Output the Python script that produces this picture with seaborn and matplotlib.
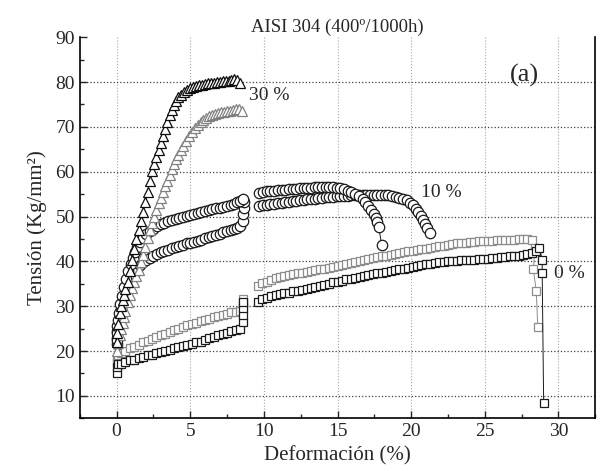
import numpy as np
import seaborn as sns
import matplotlib
matplotlib.use("Agg")
import matplotlib.pyplot as plt
from matplotlib.ticker import MultipleLocator

sns.set_theme(style="ticks")
plt.rcParams['font.family'] = ['Liberation Serif', 'DejaVu Serif']

# ---- 30 % (triangulos) ----
t1_x = [0.0, 0.05, 0.1, 0.2, 0.3, 0.4, 0.5, 0.6, 0.75, 0.9, 1.05, 1.2, 1.35, 1.5, 1.65, 1.8,
        1.95, 2.1, 2.25, 2.4, 2.55, 2.7, 2.85, 3.0, 3.15, 3.3, 3.45, 3.6, 3.75, 3.9, 4.05, 4.2,
        4.4, 4.6, 4.8, 5.0, 5.2, 5.4, 5.6, 5.8, 6.0, 6.2, 6.4, 6.6, 6.8, 7.0, 7.2, 7.4, 7.6,
        7.8, 8.0, 8.2, 8.4]
t1_y = [22.0, 24.0, 26.0, 28.5, 30.0, 31.3, 32.5, 33.8, 35.5, 37.8, 40.2, 42.8, 45.0, 47.0,
        49.0, 51.0, 53.2, 55.5, 58.0, 60.2, 61.8, 63.3, 64.8, 66.3, 68.0, 69.5, 71.0, 72.6,
        73.8, 74.8, 75.8, 76.6, 77.2, 77.8, 78.2, 78.6, 78.9, 79.1, 79.3, 79.4, 79.5, 79.7,
        79.8, 79.8, 80.0, 80.1, 80.2, 80.3, 80.3, 80.5, 80.6, 80.4, 79.8]
t2_x = [0.0, 0.1, 0.2, 0.3, 0.4, 0.5, 0.6, 0.75, 0.9, 1.05, 1.2, 1.35, 1.5, 1.65, 1.8, 1.95,
        2.1, 2.25, 2.4, 2.55, 2.7, 2.85, 3.0, 3.15, 3.3, 3.45, 3.6, 3.75, 3.9, 4.05, 4.2, 4.35,
        4.5, 4.7, 4.9, 5.1, 5.3, 5.5, 5.7, 5.9, 6.1, 6.3, 6.5, 6.7, 6.9, 7.1, 7.3, 7.5, 7.7,
        7.9, 8.1, 8.3, 8.5]
t2_y = [20.0, 21.8, 23.5, 25.0, 26.3, 27.5, 29.0, 31.0, 32.6, 34.0, 35.5, 36.8, 38.0, 39.8,
        41.5, 43.3, 45.3, 47.0, 48.5, 50.0, 51.5, 53.0, 54.2, 55.4, 56.8, 58.0, 59.3, 60.6,
        61.8, 62.8, 63.8, 64.8, 65.8, 66.9, 68.0, 68.8, 69.7, 70.4, 71.0, 71.6, 72.0, 72.4,
        72.7, 72.9, 73.1, 73.3, 73.4, 73.5, 73.6, 73.8, 73.9, 74.0, 73.5]

# ---- 10 % (circulos) ----
c1a_x = [0.0, 0.02, 0.05, 0.1, 0.15, 0.25, 0.35, 0.5, 0.65, 0.8, 0.95, 1.1, 1.25, 1.4, 1.6,
         1.8, 2.0, 2.25, 2.5, 2.75, 3.0, 3.25, 3.5, 3.75, 4.0, 4.25, 4.5, 4.75, 5.0, 5.25,
         5.5, 5.75, 6.0, 6.25, 6.5, 6.75, 7.0, 7.25, 7.5, 7.75, 8.0, 8.2, 8.4, 8.6]
c1a_y = [22.5, 24.0, 25.5, 27.0, 28.5, 30.5, 32.3, 34.3, 36.0, 37.8, 39.3, 40.8, 42.0, 43.2,
         44.3, 45.2, 46.0, 46.7, 47.3, 47.8, 48.3, 48.6, 49.0, 49.2, 49.5, 49.7, 50.0, 50.2,
         50.4, 50.6, 50.8, 51.0, 51.2, 51.4, 51.6, 51.8, 52.0, 52.2, 52.4, 52.6, 52.9, 53.2,
         53.5, 54.0]
c1b_x = [9.7, 9.95, 10.2, 10.45, 10.7, 10.95, 11.2, 11.45, 11.7, 11.95, 12.2, 12.45, 12.7,
         12.95, 13.2, 13.45, 13.7, 13.95, 14.2, 14.45, 14.7, 14.95, 15.2, 15.45, 15.7, 15.95,
         16.2, 16.45, 16.7, 16.9, 17.1, 17.3, 17.45, 17.6, 17.7, 17.8, 18.0]
c1b_y = [55.3, 55.5, 55.6, 55.7, 55.8, 55.9, 56.0, 56.0, 56.1, 56.2, 56.2, 56.3, 56.3, 56.4,
         56.4, 56.5, 56.5, 56.5, 56.6, 56.5, 56.5, 56.4, 56.3, 56.1, 55.8, 55.5, 55.1, 54.6,
         54.0, 53.2, 52.4, 51.5, 50.6, 49.7, 48.8, 47.6, 43.7]
c2a_x = [0.0, 0.02, 0.05, 0.1, 0.2, 0.3, 0.45, 0.6, 0.75, 0.9, 1.05, 1.2, 1.4, 1.6, 1.8, 2.0,
         2.25, 2.5, 2.75, 3.0, 3.25, 3.5, 3.75, 4.0, 4.25, 4.5, 4.75, 5.0, 5.25, 5.5, 5.75,
         6.0, 6.25, 6.5, 6.75, 7.0, 7.25, 7.5, 7.75, 8.0, 8.2, 8.4, 8.55, 8.6, 8.65, 8.65]
c2a_y = [21.5, 23.0, 24.5, 26.0, 27.8, 29.3, 31.0, 32.4, 33.8, 35.0, 36.2, 37.2, 38.3, 39.2,
         39.9, 40.4, 40.8, 41.2, 41.6, 42.0, 42.3, 42.6, 42.9, 43.2, 43.4, 43.7, 44.0, 44.2,
         44.4, 44.6, 44.8, 45.1, 45.4, 45.6, 45.9, 46.2, 46.5, 46.8, 47.0, 47.3, 47.5, 47.8,
         49.0, 50.5, 52.0, 53.3]
c2b_x = [9.7, 9.95, 10.2, 10.45, 10.7, 10.95, 11.2, 11.45, 11.7, 11.95, 12.2, 12.45, 12.7,
         12.95, 13.2, 13.45, 13.7, 13.95, 14.2, 14.45, 14.7, 14.95, 15.2, 15.45, 15.7, 15.95,
         16.2, 16.45, 16.7, 16.95, 17.2, 17.45, 17.7, 17.95, 18.2, 18.45, 18.7, 18.95, 19.2,
         19.45, 19.7, 19.9, 20.1, 20.3, 20.5, 20.65, 20.8, 20.95, 21.1, 21.3]
c2b_y = [52.3, 52.5, 52.6, 52.8, 52.9, 53.0, 53.1, 53.2, 53.3, 53.4, 53.5, 53.6, 53.7, 53.8,
         53.9, 54.0, 54.1, 54.2, 54.3, 54.3, 54.4, 54.5, 54.5, 54.6, 54.6, 54.7, 54.7, 54.8,
         54.8, 54.9, 54.9, 54.9, 54.9, 54.8, 54.8, 54.7, 54.6, 54.4, 54.2, 54.0, 53.6, 53.1,
         52.5, 51.7, 50.9, 50.1, 49.2, 48.3, 47.4, 46.3]

# ---- 0 % (cuadrados) ----
s1a_x = [0.0, 0.0, 0.1, 0.3, 0.6, 0.9, 1.2, 1.5, 1.8, 2.1, 2.4, 2.7, 3.0, 3.3, 3.6, 3.9, 4.2,
         4.5, 4.8, 5.1, 5.4, 5.7, 6.0, 6.3, 6.6, 6.9, 7.2, 7.5, 7.8, 8.1, 8.4, 8.6, 8.6, 8.6, 8.6]
s1a_y = [15.2, 16.5, 17.0, 17.2, 17.6, 17.9, 18.1, 18.4, 18.6, 19.0, 19.2, 19.5, 19.7, 20.0,
         20.3, 20.6, 21.0, 21.2, 21.4, 21.6, 21.9, 22.1, 22.4, 22.8, 23.1, 23.5, 23.9, 24.1,
         24.4, 24.7, 25.0, 26.5, 28.0, 29.5, 31.0]
s1b_x = [9.6, 9.9, 10.2, 10.5, 10.8, 11.1, 11.4, 11.7, 12.0, 12.3, 12.6, 12.9, 13.2, 13.5,
         13.8, 14.1, 14.4, 14.7, 15.0, 15.3, 15.6, 15.9, 16.2, 16.5, 16.8, 17.1, 17.4, 17.7,
         18.0, 18.3, 18.6, 18.9, 19.2, 19.5, 19.8, 20.1, 20.4, 20.7, 21.0, 21.3, 21.6, 21.9,
         22.2, 22.5, 22.8, 23.1, 23.4, 23.7, 24.0, 24.3, 24.6, 24.9, 25.2, 25.5, 25.8, 26.1,
         26.4, 26.7, 27.0, 27.3, 27.6, 27.9, 28.2, 28.5, 28.7, 28.9, 28.9, 29.0]
s1b_y = [31.0, 31.6, 31.9, 32.3, 32.4, 32.7, 33.0, 33.0, 33.3, 33.4, 33.5, 33.9, 34.1, 34.2,
         34.6, 34.8, 35.0, 35.3, 35.5, 35.6, 36.0, 36.1, 36.3, 36.6, 36.8, 36.9, 37.2, 37.3,
         37.5, 37.7, 37.8, 38.0, 38.2, 38.3, 38.6, 38.8, 38.9, 39.2, 39.4, 39.5, 39.7, 39.8,
         39.8, 40.0, 40.0, 40.1, 40.2, 40.3, 40.3, 40.4, 40.5, 40.5, 40.6, 40.8, 40.8, 40.9,
         41.0, 41.1, 41.2, 41.3, 41.4, 41.6, 41.8, 42.2, 43.0, 40.4, 37.4, 8.3]
s2a_x = [0.0, 0.0, 0.1, 0.3, 0.6, 0.9, 1.2, 1.5, 1.8, 2.1, 2.4, 2.7, 3.0, 3.3, 3.6, 3.9, 4.2,
         4.5, 4.8, 5.1, 5.4, 5.7, 6.0, 6.3, 6.6, 6.9, 7.2, 7.5, 7.8, 8.1, 8.4, 8.6, 8.6, 8.6]
s2a_y = [17.5, 18.5, 19.2, 19.6, 20.1, 20.6, 21.0, 21.4, 21.9, 22.3, 22.7, 23.1, 23.5, 23.9,
         24.3, 24.7, 25.0, 25.3, 25.7, 26.0, 26.3, 26.6, 26.9, 27.2, 27.5, 27.8, 28.1, 28.3,
         28.6, 28.8, 29.0, 29.8, 30.8, 31.6]
s2b_x = [9.6, 9.9, 10.2, 10.5, 10.8, 11.1, 11.4, 11.7, 12.0, 12.3, 12.6, 12.9, 13.2, 13.5,
         13.8, 14.1, 14.4, 14.7, 15.0, 15.3, 15.6, 15.9, 16.2, 16.5, 16.8, 17.1, 17.4, 17.7,
         18.0, 18.3, 18.6, 18.9, 19.2, 19.5, 19.8, 20.1, 20.4, 20.7, 21.0, 21.3, 21.6, 21.9,
         22.2, 22.5, 22.8, 23.1, 23.4, 23.7, 24.0, 24.3, 24.6, 24.9, 25.2, 25.5, 25.8, 26.1,
         26.4, 26.7, 27.0, 27.3, 27.6, 27.9, 28.2, 28.4, 28.3, 28.5, 28.6]
s2b_y = [34.6, 35.2, 35.5, 35.9, 36.2, 36.6, 36.7, 36.9, 37.2, 37.3, 37.5, 37.7, 37.8, 38.1,
         38.2, 38.4, 38.5, 38.7, 38.9, 39.1, 39.4, 39.6, 39.9, 40.1, 40.3, 40.5, 40.8, 40.9,
         41.1, 41.3, 41.5, 41.7, 41.8, 42.0, 42.2, 42.4, 42.5, 42.7, 42.8, 43.0, 43.2, 43.4,
         43.5, 43.7, 43.8, 44.0, 44.1, 44.2, 44.4, 44.4, 44.5, 44.5, 44.6, 44.6, 44.7, 44.7,
         44.8, 44.8, 44.8, 44.9, 44.9, 44.9, 44.8, 43.0, 38.2, 33.3, 25.3]

fig = plt.figure(figsize=(6.0, 4.71), dpi=100)
ax = fig.add_axes([0.133, 0.112, 0.859, 0.809])


def curva(x, y, mk, ms, col):
    # linea fina + simbolo abierto, como en Origin
    sns.lineplot(x=x, y=y, sort=False, estimator=None, ax=ax, color=col, linewidth=0.7,
                 marker=mk, markersize=ms, markerfacecolor='white',
                 markeredgecolor=col, markeredgewidth=0.9)


# 0 %
curva(s2a_x, s2a_y, 's', 6, '0.55')
curva(s2b_x, s2b_y, 's', 6, '0.55')
curva(s1a_x, s1a_y, 's', 6, '0.1')
curva(s1b_x, s1b_y, 's', 6, '0.1')
# 10 %
curva(c2a_x, c2a_y, 'o', 7.5, '0.1')
curva(c2b_x, c2b_y, 'o', 7.5, '0.1')
curva(c1a_x, c1a_y, 'o', 7.5, '0.1')
curva(c1b_x, c1b_y, 'o', 7.5, '0.1')
# 30 %
curva(t2_x, t2_y, '^', 7.5, '0.5')
curva(t1_x, t1_y, '^', 7.5, '0.05')

ax.set_xlim(-2.5, 32.5)
ax.set_ylim(5, 90)
ax.set_xticks([0, 5, 10, 15, 20, 25, 30])
ax.set_yticks([10, 20, 30, 40, 50, 60, 70, 80, 90])
ax.xaxis.set_minor_locator(MultipleLocator(2.5))
ax.yaxis.set_minor_locator(MultipleLocator(5))
ax.tick_params(which='both', direction='in', top=False, right=False, labelsize=14, width=1)
ax.tick_params(which='major', length=5)
ax.tick_params(which='minor', length=3)

# rejilla punteada
ax.grid(True, axis='y', linestyle=':', color='0.25', linewidth=0.9)
ax.grid(True, axis='x', linestyle=':', color='0.65', linewidth=0.8)
ax.get_ygridlines()[-1].set_visible(False)
ax.set_axisbelow(True)

ax.spines['top'].set_visible(False)
for s in ['left', 'bottom', 'right']:
    ax.spines[s].set_color('black')
    ax.spines[s].set_linewidth(1.2)

ax.set_xlabel('Deformación (%)', fontsize=15, labelpad=4)
ax.set_ylabel('Tensión (Kg/mm²)', fontsize=15, labelpad=6)
ax.set_title('AISI 304 (400º/1000h)', fontsize=13.5, pad=4)

ax.text(9.0, 77.1, '30 %', fontsize=14, ha='left', va='center')
ax.text(20.7, 55.3, '10 %', fontsize=14, ha='left', va='center')
ax.text(29.7, 37.4, '0 %', fontsize=14, ha='left', va='center')
ax.text(27.7, 81.5, '(a)', fontsize=19, ha='center', va='center')

fig.savefig('out.png', dpi=100)
